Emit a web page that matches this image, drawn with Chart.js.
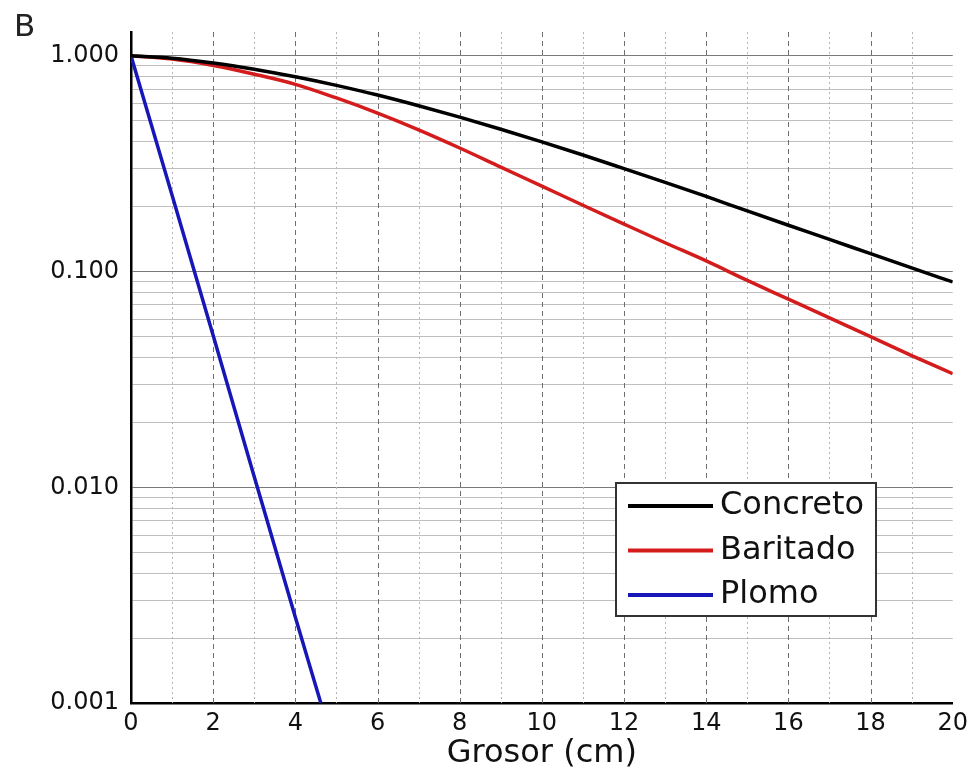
<!DOCTYPE html>
<html>
<head>
<meta charset="utf-8">
<script src="https://cdn.jsdelivr.net/npm/chart.js@4/dist/chart.umd.min.js"></script>
<style>
  html, body { margin: 0; padding: 0; background: #fff; }
  #wrap { width: 974px; height: 773px; }
</style>
</head>
<body>
<div id="wrap"><canvas id="atten"></canvas></div>
<script>
// thickness in cm
const grosor = [0, 1, 2, 3, 4, 5, 6, 7, 8, 9, 10, 11, 12, 13, 14, 15, 16, 17, 18, 19, 20];
const concreto = [1.0, 0.975, 0.927, 0.867, 0.800, 0.730, 0.658, 0.587, 0.520, 0.457, 0.399,
                  0.347, 0.300, 0.259, 0.223, 0.191, 0.164, 0.141, 0.121, 0.104, 0.0895];
const baritado = [1.0, 0.966, 0.902, 0.822, 0.738, 0.638, 0.543, 0.454, 0.374, 0.305, 0.249,
                  0.203, 0.166, 0.136, 0.112, 0.091, 0.0745, 0.061, 0.0499, 0.0408, 0.0336];
const grosorPlomo = [0, 1, 2, 3, 4, 4.62];
const plomo = [1.0, 0.226, 0.0505, 0.0112, 0.0025, 0.001];

const yTicks = [0.001, 0.002, 0.003, 0.004, 0.005, 0.006, 0.007, 0.008, 0.009,
                0.01, 0.02, 0.03, 0.04, 0.05, 0.06, 0.07, 0.08, 0.09,
                0.1, 0.2, 0.3, 0.4, 0.5, 0.6, 0.7, 0.8, 0.9, 1.0];

const FONT = "'DejaVu Sans', sans-serif";
const isDecade = v => Math.abs(Math.log10(v) - Math.round(Math.log10(v))) < 1e-6;
const pts = (xs, ys) => xs.map((x, i) => ({ x: x, y: ys[i] }));

// dashed vertical grid: darker dashes on even values, light dots on odd ones
const vGrid = {
  id: 'vGrid',
  beforeDatasetsDraw(chart) {
    const { ctx, chartArea: a, scales: { x } } = chart;
    ctx.save();
    ctx.lineWidth = 1;
    x.ticks.forEach(t => {
      if (t.value <= x.min || t.value >= x.max) return;
      const px = Math.round(x.getPixelForValue(t.value)) + 0.5;
      const even = t.value % 2 === 0;
      ctx.strokeStyle = even ? '#6e6e6e' : '#b4b4b4';
      ctx.setLineDash(even ? [5, 4] : [2, 3]);
      ctx.beginPath();
      ctx.moveTo(px, a.top);
      ctx.lineTo(px, a.bottom);
      ctx.stroke();
    });
    ctx.restore();
  }
};

// boxed legend inside the plot and the panel letter
const boxLegend = {
  id: 'boxLegend',
  afterDraw(chart) {
    const { ctx } = chart;
    ctx.save();
    ctx.fillStyle = '#fff';
    ctx.fillRect(616, 483, 260, 133);
    ctx.strokeStyle = '#333';
    ctx.lineWidth = 2;
    ctx.strokeRect(616, 483, 260, 133);
    ctx.font = '32px ' + FONT;
    ctx.textBaseline = 'middle';
    chart.data.datasets.forEach((ds, i) => {
      const y = 506 + i * 44.5;
      ctx.strokeStyle = ds.borderColor;
      ctx.lineWidth = 4;
      ctx.beginPath();
      ctx.moveTo(628, y);
      ctx.lineTo(713, y);
      ctx.stroke();
      ctx.fillStyle = '#111';
      ctx.fillText(ds.label, 720, y);
    });
    ctx.font = '31px ' + FONT;
    ctx.fillStyle = '#222';
    ctx.textBaseline = 'top';
    ctx.fillText('B', 14, 12);
    ctx.restore();
  }
};

new Chart(document.getElementById('atten'), {
  type: 'line',
  data: {
    datasets: [
      { label: 'Concreto', data: pts(grosor, concreto), borderColor: '#000000' },
      { label: 'Baritado', data: pts(grosor, baritado), borderColor: '#d41c1c' },
      { label: 'Plomo', data: pts(grosorPlomo, plomo), borderColor: '#1717b8' }
    ]
  },
  options: {
    responsive: true,
    maintainAspectRatio: false,
    animation: false,
    parsing: false,
    elements: {
      line: { borderWidth: 3.5, tension: 0, cubicInterpolationMode: 'monotone' },
      point: { radius: 0 }
    },
    layout: { padding: { top: 32, right: 21, left: 0, bottom: 0 } },
    plugins: { legend: { display: false }, tooltip: { enabled: false } },
    scales: {
      x: {
        type: 'linear',
        min: 0,
        max: 20,
        afterFit(scale) { scale.height = 70; },
        grid: { color: 'rgba(0,0,0,0)', drawTicks: false },
        border: { color: '#000', width: 2.5 },
        ticks: {
          stepSize: 1,
          autoSkip: false,
          maxRotation: 0,
          padding: 6,
          color: '#111',
          font: { family: FONT, size: 24 },
          callback: v => (v % 2 === 0 ? String(v) : '')
        },
        title: {
          display: true,
          text: 'Grosor (cm)',
          color: '#111',
          font: { family: FONT, size: 32 },
          padding: { top: 0, bottom: 0 }
        }
      },
      y: {
        type: 'logarithmic',
        min: 0.001,
        max: 1.29,
        afterFit(scale) { scale.width = 131; },
        afterBuildTicks(scale) { scale.ticks = yTicks.map(v => ({ value: v })); },
        grid: {
          drawTicks: false,
          lineWidth: 1,
          color: c => (c.tick && isDecade(c.tick.value) ? '#7a7a7a' : '#bfbfbf')
        },
        border: { color: '#000', width: 2.5 },
        ticks: {
          autoSkip: false,
          padding: 12,
          color: '#111',
          font: { family: FONT, size: 24 },
          callback: v => (isDecade(v) ? v.toFixed(3) : '')
        }
      }
    }
  },
  plugins: [vGrid, boxLegend]
});
</script>
</body>
</html>
